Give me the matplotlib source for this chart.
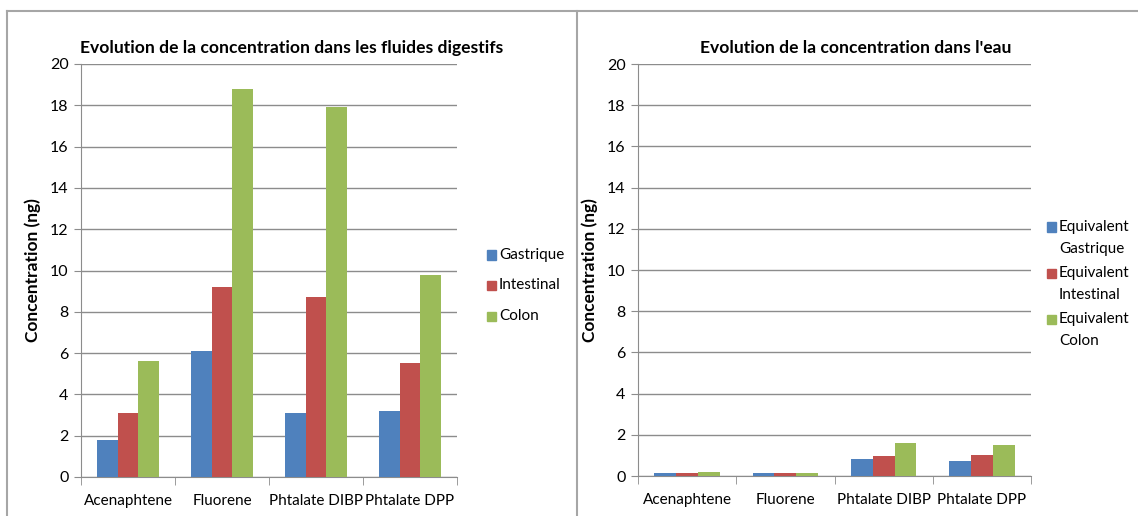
import matplotlib.pyplot as plt
import numpy as np
from matplotlib.lines import Line2D
from matplotlib.patches import Rectangle

plt.rcParams['font.family'] = ['Lato', 'DejaVu Sans']

categories = ['Acenaphtene', 'Fluorene', 'Phtalate DIBP', 'Phtalate DPP']

# fluides digestifs
gastrique = [1.8, 6.1, 3.1, 3.2]
intestinal = [3.1, 9.2, 8.7, 5.5]
colon = [5.6, 18.8, 17.9, 9.8]

# eau
eq_gastrique = [0.15, 0.15, 0.82, 0.75]
eq_intestinal = [0.15, 0.15, 0.95, 1.0]
eq_colon = [0.18, 0.14, 1.6, 1.52]

colors = ['#4F81BD', '#C0504D', '#9BBB59']
W, H = 1138, 516

fig = plt.figure(figsize=(W / 100, H / 100), dpi=100)


def px_axes(x0, x1, ytop, ybot):
    return fig.add_axes([x0 / W, (H - ybot) / H, (x1 - x0) / W, (ybot - ytop) / H])


def legend_px(labels, x, ys):
    # small square + label, square lined up with the first text line
    for lab, y, c in zip(labels, ys, colors):
        fig.add_artist(Rectangle((x / W, (H - y - 4.5) / H), 9 / W, 9 / H,
                                 color=c, transform=fig.transFigure))
        fig.text((x + 12) / W, (H - y + 7) / H, lab, fontsize=11, va='top',
                 ha='left', linespacing=1.7, transform=fig.transFigure)


def draw(ax, series, title, title_x):
    x = np.arange(len(categories))
    bw = 1 / 4.5
    for i, vals in enumerate(series):
        ax.bar(x + (i - 1) * bw, vals, bw, color=colors[i], zorder=3)
    ax.set_xlim(-0.5, len(categories) - 0.5)
    ax.set_ylim(0, 20)
    ax.set_yticks(range(0, 21, 2))
    ax.yaxis.grid(True, color='#8c8c8c', lw=1, zorder=0)
    ax.set_xticks(x)
    ax.set_xticklabels(categories)
    ax.set_xticks(np.arange(-0.5, len(categories)), minor=True)
    ax.tick_params(axis='x', which='major', length=0, pad=12, labelsize=11)
    ax.tick_params(axis='x', which='minor', length=6, color='#8c8c8c', direction='out')
    ax.tick_params(axis='y', length=5, color='#8c8c8c', labelsize=11.5, pad=4)
    for s in ['top', 'right']:
        ax.spines[s].set_visible(False)
    for s in ['left', 'bottom']:
        ax.spines[s].set_color('#8c8c8c')
    ax.set_ylabel('Concentration (ng)', fontsize=12.5, fontweight='bold', labelpad=6)
    ax.set_title(title, fontsize=12.6, fontweight='bold', pad=8, x=title_x)


ax1 = px_axes(81, 457, 64, 477)
draw(ax1, [gastrique, intestinal, colon],
     'Evolution de la concentration dans les fluides digestifs', 0.561)
legend_px(['Gastrique', 'Intestinal', 'Colon'], 487, [255, 285, 316])

ax2 = px_axes(638, 1031, 64, 476)
draw(ax2, [eq_gastrique, eq_intestinal, eq_colon],
     "Evolution de la concentration dans l'eau", 0.555)
legend_px(['Equivalent\nGastrique', 'Equivalent\nIntestinal', 'Equivalent\nColon'],
          1047, [227, 273, 319])

# panel borders
bc = '#a6a6a6'
fig.add_artist(Line2D([7 / W, 1], [1 - 11 / H, 1 - 11 / H], color=bc, lw=1.5))
fig.add_artist(Line2D([7 / W, 7 / W], [0, 1 - 11 / H], color=bc, lw=1.5))
fig.add_artist(Line2D([577 / W, 577 / W], [0, 1 - 11 / H], color=bc, lw=1.5))

fig.savefig('out.png', dpi=100)
